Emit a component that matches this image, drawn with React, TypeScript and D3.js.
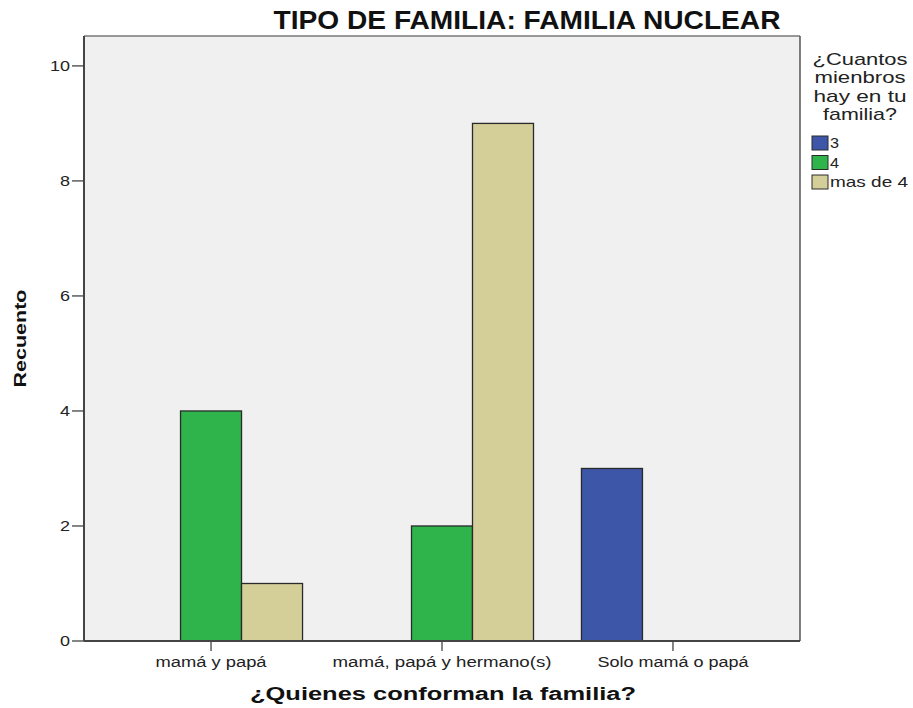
import React from "react";
import * as d3 from "d3";

const categories = ["mamá y papá", "mamá, papá y hermano(s)", "Solo mamá o papá"];
const seriesNames = ["3", "4", "mas de 4"];
const values3 = [0, 0, 3];
const values4 = [4, 2, 0];
const valuesMas4 = [1, 9, 0];
const yTicks = [0, 2, 4, 6, 8, 10];
const colors = ["#3d56a8", "#2eb44b", "#d4cf99"];
const catLabelWidths = [111, 219, 151];

const W = 913, H = 708;
const L = 84, R = 800, T = 36, B = 641;
const FONT = "'Liberation Sans', Arial, sans-serif";

export default function App() {
  const x = d3.scalePoint<string>().domain(categories).range([L, R]).padding(0.55);
  const sub = d3.scaleBand<string>().domain(seriesNames).range([-91.5, 91.5]);
  const y = d3.scaleLinear().domain([0, 10.52]).range([B, T]);
  const allValues = [values3, values4, valuesMas4];

  return (
    <svg width={W} height={H} style={{ position: "absolute", left: 0, top: 0, background: "#fff" }} fontFamily={FONT}>
      <rect x={L} y={T} width={R - L} height={B - T} fill="#f0f0f0" />
      {/* frame */}
      <line x1={L} y1={T} x2={R} y2={T} stroke="#777" strokeWidth={1.5} />
      <line x1={R} y1={T} x2={R} y2={B} stroke="#555" strokeWidth={1.5} />
      {/* bars */}
      {allValues.map((vals, si) =>
        vals.map((v, ci) =>
          v > 0 ? (
            <rect
              key={`${si}-${ci}`}
              x={(x(categories[ci]) as number) + (sub(seriesNames[si]) as number)}
              y={y(v)}
              width={sub.bandwidth()}
              height={y(0) - y(v)}
              fill={colors[si]}
              stroke="#2a2a2a"
              strokeWidth={1.3}
            />
          ) : null
        )
      )}
      {/* axes */}
      <line x1={L} y1={T} x2={L} y2={B} stroke="#444" strokeWidth={2} />
      <line x1={L} y1={B} x2={R} y2={B} stroke="#444" strokeWidth={2} />
      {yTicks.map((t) => (
        <g key={t}>
          <line x1={L - 12} x2={L} y1={y(t)} y2={y(t)} stroke="#444" strokeWidth={1.3} />
          <text x={L - 14} y={y(t) + 5} textAnchor="end" fontSize={15} fill="#222"
            textLength={t >= 10 ? 20 : 10} lengthAdjust="spacingAndGlyphs">{t}</text>
        </g>
      ))}
      {categories.map((c, i) => (
        <g key={c}>
          <line x1={x(c)} x2={x(c)} y1={B} y2={B + 10} stroke="#444" strokeWidth={1.3} />
          <text x={x(c)} y={B + 26} textAnchor="middle" fontSize={14} fill="#222"
            textLength={catLabelWidths[i]} lengthAdjust="spacingAndGlyphs">{c}</text>
        </g>
      ))}
      {/* title */}
      <text x={527} y={29} textAnchor="middle" fontSize={26} fontWeight="bold" fill="#111"
        textLength={507} lengthAdjust="spacingAndGlyphs">TIPO DE FAMILIA: FAMILIA NUCLEAR</text>
      {/* axis titles */}
      <text x={443} y={700} textAnchor="middle" fontSize={18} fontWeight="bold" fill="#111"
        textLength={386} lengthAdjust="spacingAndGlyphs">¿Quienes conforman la familia?</text>
      <text transform={`translate(26,${(T + B) / 2}) rotate(-90)`} textAnchor="middle" fontSize={17} fontWeight="bold" fill="#111"
        textLength={98} lengthAdjust="spacingAndGlyphs">Recuento</text>
      {/* legend */}
      {[
        ["¿Cuantos", 65, 95],
        ["mienbros", 83, 91],
        ["hay en tu", 102, 93],
        ["familia?", 120, 74],
      ].map(([s, yy, w]) => (
        <text key={s as string} x={860} y={yy as number} textAnchor="middle" fontSize={17} fill="#222"
          textLength={w as number} lengthAdjust="spacingAndGlyphs">{s}</text>
      ))}
      {seriesNames.map((s, i) => (
        <g key={s}>
          <rect x={812} y={136 + i * 19.5} width={16} height={14} fill={colors[i]} stroke="#2a2a2a" strokeWidth={1} />
          <text x={830} y={148 + i * 19.5} fontSize={15} fill="#222"
            textLength={s === "mas de 4" ? 78 : 9} lengthAdjust="spacingAndGlyphs">{s}</text>
        </g>
      ))}
    </svg>
  );
}
